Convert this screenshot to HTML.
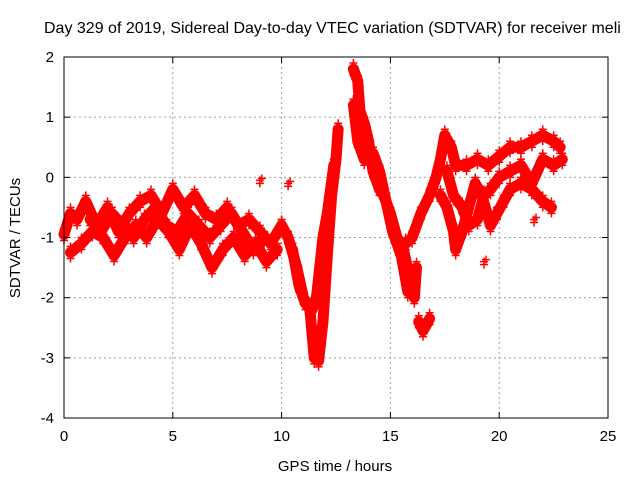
<!DOCTYPE html>
<html><head><meta charset="utf-8"><style>
body{margin:0;background:#fff}
svg text{font-family:"Liberation Sans",sans-serif;font-size:15px;fill:#000}
</style></head><body>
<svg id="chart" width="640" height="480" xmlns="http://www.w3.org/2000/svg">
<rect width="640" height="480" fill="#fff"/>
<text x="44" y="33" style="font-size:16px">Day 329 of 2019, Sidereal Day-to-day VTEC variation (SDTVAR) for receiver meli</text>
<g id="grid"></g>
<g id="marks"></g>
<rect x="64" y="57" width="544" height="361" fill="none" stroke="#000" stroke-width="1"/>
<g id="ticks"></g>
<text x="335" y="471" text-anchor="middle">GPS time / hours</text>
<text transform="translate(20,238) rotate(-90)" text-anchor="middle">SDTVAR / TECUs</text>
</svg>
<script>
const xTicks=[0,5,10,15,20,25];
const yTicks=[-4,-3,-2,-1,0,1,2];
const t1=[0,0.3,0.6,1.0,1.5,2.0,2.5,3.0,3.5,4.0,4.5,5.0,5.5,6.0,6.5,7.0,7.5,8.0,8.5,9.0,9.5,10.0];
const v1=[-0.95,-0.6,-0.7,-0.4,-0.8,-0.5,-0.9,-0.6,-0.4,-0.3,-0.6,-0.2,-0.5,-0.3,-0.6,-0.7,-0.5,-0.8,-0.7,-0.9,-1.1,-0.8];
const t2=[0.3,0.8,1.3,1.8,2.3,2.8,3.3,3.8,4.3,4.8,5.3,5.8,6.3,6.8,7.3,7.8,8.3,8.8,9.3,9.8];
const v2=[-1.25,-1.1,-0.9,-1.0,-1.3,-1.0,-0.8,-1.0,-0.7,-0.9,-1.2,-0.8,-1.1,-1.5,-1.2,-1.0,-1.3,-1.1,-1.4,-1.2];
const t2b=[1.2,1.7,2.2,2.7,3.2,3.7,4.2,4.7,5.2,5.7,6.2,6.7,7.2,7.7,8.2,8.7,9.2];
const v2b=[-0.7,-0.9,-0.6,-0.8,-1.0,-0.7,-0.5,-0.8,-0.9,-0.6,-0.8,-1.0,-0.8,-0.6,-0.9,-1.2,-1.0];
const t3=[10.0,10.3,10.7,11.0,11.3,11.5,11.7,11.9,12.1,12.3,12.5,12.6];
const v3=[-0.8,-1.0,-1.5,-2.0,-2.2,-3.0,-3.05,-2.4,-1.3,-0.3,0.3,0.8];
const t4=[10.5,10.8,11.1,11.4,11.6,11.9,12.1,12.4];
const v4=[-1.2,-1.8,-2.1,-2.2,-2.0,-1.0,-0.6,0.2];
const t5=[13.3,13.5,13.6,13.8,14.0,14.2,14.5,14.7,15.0,15.3,15.6,15.9,16.1,16.2];
const v5=[1.8,1.6,1.1,0.9,0.6,0.1,-0.2,-0.3,-0.6,-1.0,-1.2,-1.7,-2.0,-1.5];
const t6=[13.3,13.5,13.8,14.2,14.5,14.8,15.1,15.5,15.8];
const v6=[1.2,0.6,0.3,0.4,0.1,-0.4,-0.9,-1.3,-1.9];
const t7=[15.4,15.7,16.0,16.4,16.8,17.1,17.3,17.5,17.8,18.0,18.5,19.0,19.5,20.0,20.5,21.0,21.5,22.0,22.5,22.8];
const v7=[-1.2,-1.1,-1.0,-0.6,-0.3,0.0,0.3,0.7,0.5,0.2,0.2,0.3,0.2,0.35,0.5,0.5,0.6,0.7,0.6,0.5];
const t8=[16.3,16.5,16.8];
const v8=[-2.4,-2.55,-2.35];
const t9=[17.3,17.6,17.9,18.0,18.3,18.6,18.9,19.2,19.6,19.9,20.2,20.5,21.0,21.5,22.0,22.4];
const v9=[-0.3,-0.5,-0.9,-1.2,-0.9,-0.5,-0.1,-0.3,-0.8,-0.6,-0.4,-0.2,-0.1,-0.2,-0.4,-0.5];
const t10=[17.6,17.9,18.3,18.6,19.0,19.3,19.6,20.0,20.5,21.0,21.5,22.0,22.5,22.9];
const v10=[0.1,-0.3,-0.5,-0.8,-0.7,-0.3,-0.2,0.0,0.1,0.2,-0.1,0.3,0.2,0.3];
const tIso=[19.3,21.6,9.0,10.3];
const vIso=[-1.4,-0.7,-0.05,-0.1];
const tracks=[[t1,v1],[t2,v2],[t2b,v2b],[t3,v3],[t4,v4],[t5,v5],[t6,v6],[t7,v7],[t8,v8],[t9,v9],[t10,v10]];
const X0=64,X1=608,Y0=418,Y1=57;
const xs=t=>X0+(t-0)/(25-0)*(X1-X0);
const ys=v=>Y0-(v-(-4))/(2-(-4))*(Y0-Y1);
const NS='http://www.w3.org/2000/svg';
const grid=document.getElementById('grid'),ticks=document.getElementById('ticks'),marks=document.getElementById('marks');
function mk(tag,attrs,parent){const e=document.createElementNS(NS,tag);for(const k in attrs)e.setAttribute(k,attrs[k]);parent.appendChild(e);return e;}
xTicks.forEach(t=>{const x=xs(t);
 if(t>0&&t<25){const g=mk('line',{x1:x,x2:x,y1:Y1,y2:Y0,stroke:'#a0a0a0','stroke-dasharray':'2,3'},grid);
 
 }
 mk('line',{x1:x,x2:x,y1:Y0,y2:Y0-6,stroke:'#000'},ticks);
 mk('line',{x1:x,x2:x,y1:Y1,y2:Y1+6,stroke:'#000'},ticks);
 const l=mk('text',{x:x,y:Y0+23,'text-anchor':'middle'},ticks);l.textContent=t;
 
 });
yTicks.forEach(v=>{const y=ys(v);
 if(v>-4&&v<2){const g=mk('line',{x1:X0,x2:X1,y1:y,y2:y,stroke:'#a0a0a0','stroke-dasharray':'2,3'},grid);
 
 }
 mk('line',{x1:X0,x2:X0+6,y1:y,y2:y,stroke:'#000'},ticks);
 mk('line',{x1:X1,x2:X1-6,y1:y,y2:y,stroke:'#000'},ticks);
 const l=mk('text',{x:X0-10,y:y+5,'text-anchor':'end'},ticks);l.textContent=v;
 
 });
function plus(x,y){mk('path',{d:`M${x-4},${y}h8M${x},${y-4}v8`,stroke:'#f00','stroke-width':1.5},marks);}
tracks.forEach(([T,V],i)=>{
 const pts=T.map((t,j)=>xs(t)+','+ys(V[j])).join(' ');
 const p=mk('polyline',{points:pts,fill:'none',stroke:'#f00','stroke-width':11,'stroke-linejoin':'round','stroke-linecap':'round'},marks);
 
 
 T.forEach((t,j)=>{plus(xs(t),ys(V[j])-6);plus(xs(t),ys(V[j])+6);});
});
tIso.forEach((t,j)=>{const x=xs(t),y=ys(vIso[j]);plus(x,y);plus(x,y+3);plus(x+2,y-2);});
</script>
</body></html>
